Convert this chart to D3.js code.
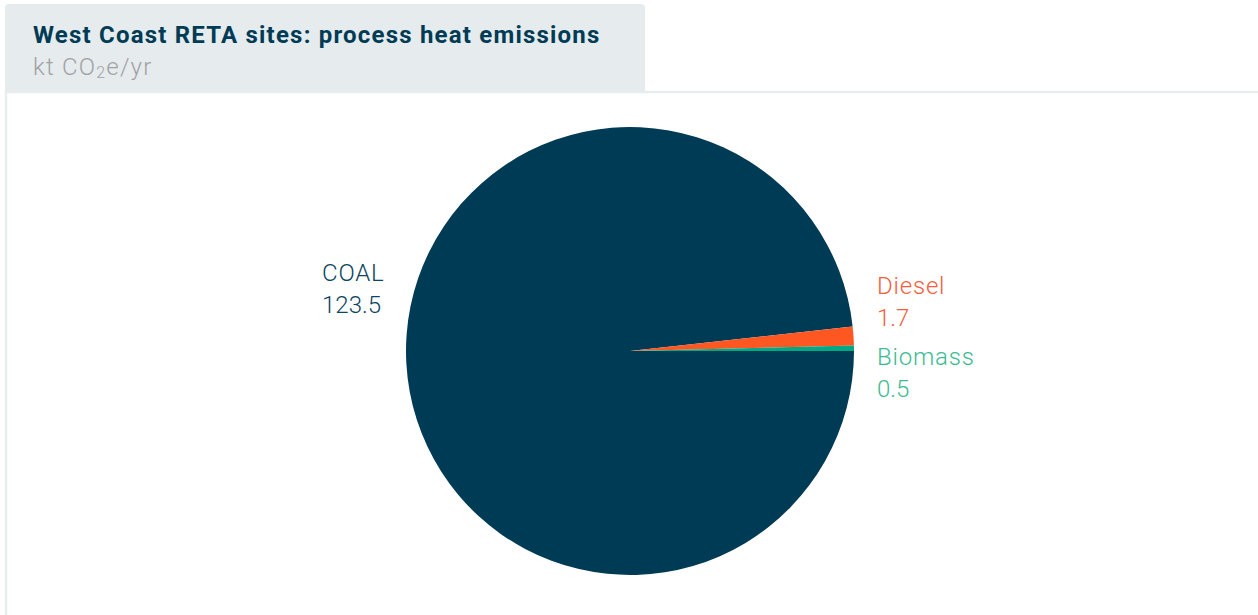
<!DOCTYPE html>
<html>
<head>
<meta charset="utf-8">
<script src="https://cdn.jsdelivr.net/npm/d3@7"></script>
<style>
  html, body { margin: 0; padding: 0; background: #ffffff; }
  svg { display: block; font-family: Roboto, "Noto Sans", sans-serif; }
</style>
</head>
<body>
<svg id="chart" width="1258" height="615"></svg>
<script>
// Process heat emissions by fuel, kt CO2e/yr
const categories = ["COAL", "Diesel", "Biomass"];
const values = [123.5, 1.7, 0.5];
const sliceColors = ["#003b55", "#ff5722", "#00a884"];
const labelColors = ["#0b4560", "#f4603a", "#3dbb93"];

const titleText = "West Coast RETA sites: process heat emissions";

const width = 1258, height = 615;
const svg = d3.select("#chart");

// Card frame
svg.append("rect")
  .attr("x", 6).attr("y", 92)
  .attr("width", width + 10).attr("height", height)
  .attr("fill", "#ffffff")
  .attr("stroke", "#e8edf0").attr("stroke-width", 2.5);

// Title tab
const tab = svg.append("g");
tab.append("path")
  .attr("d", (() => {
    const x0 = 5, y0 = 4, x1 = 645, y1 = 92, r = 4;
    return `M${x0},${y1}V${y0 + r}Q${x0},${y0} ${x0 + r},${y0}H${x1 - r}Q${x1},${y0} ${x1},${y0 + r}V${y1}Z`;
  })())
  .attr("fill", "#e6ebee");

tab.append("text")
  .attr("x", 33).attr("y", 43)
  .attr("font-size", 24).attr("font-weight", 700)
  .attr("letter-spacing", 1.2)
  .attr("fill", "#003b55")
  .text(titleText);

const sub = tab.append("text")
  .attr("x", 33).attr("y", 75)
  .attr("font-size", 24).attr("font-weight", 300)
  .attr("letter-spacing", 1.2)
  .attr("fill", "#a2a2a2");
sub.append("tspan").text("kt CO");
sub.append("tspan").attr("font-size", 16).attr("dy", 3).text("2");
sub.append("tspan").attr("dy", -3).text("e/yr");

// Pie
const cx = 630, cy = 351, radius = 224;
const startDeg = 90;
const pie = d3.pie()
  .sort(null)
  .startAngle(startDeg * Math.PI / 180)
  .endAngle((startDeg + 360) * Math.PI / 180);
const arcs = pie(values);
const arc = d3.arc().innerRadius(0).outerRadius(radius);

const g = svg.append("g").attr("transform", `translate(${cx},${cy})`);
g.selectAll("path.slice")
  .data(arcs)
  .join("path")
  .attr("class", "slice")
  .attr("d", arc)
  .attr("fill", (d, i) => sliceColors[i]);

// Data labels: right-side slices stacked beside the rim, the large slice on the left
const lineGap = 32;
const labelX = d => {
  const mid = (d.startAngle + d.endAngle) / 2;
  return Math.sin(mid) >= 0 ? radius + 23 : -radius - 84;
};
const labelY = [-70, -57, 14];

const labels = g.selectAll("g.label")
  .data(arcs)
  .join("g")
  .attr("class", "label")
  .attr("transform", (d, i) => `translate(${labelX(d)},${labelY[i]})`);

labels.append("text")
  .attr("font-size", 24).attr("font-weight", 300)
  .attr("letter-spacing", 0.8)
  .attr("fill", (d, i) => labelColors[i])
  .text((d, i) => categories[i]);

labels.append("text")
  .attr("y", lineGap)
  .attr("font-size", 24).attr("font-weight", 300)
  .attr("fill", (d, i) => labelColors[i])
  .text(d => d3.format(".1f")(d.data));
</script>
</body>
</html>
